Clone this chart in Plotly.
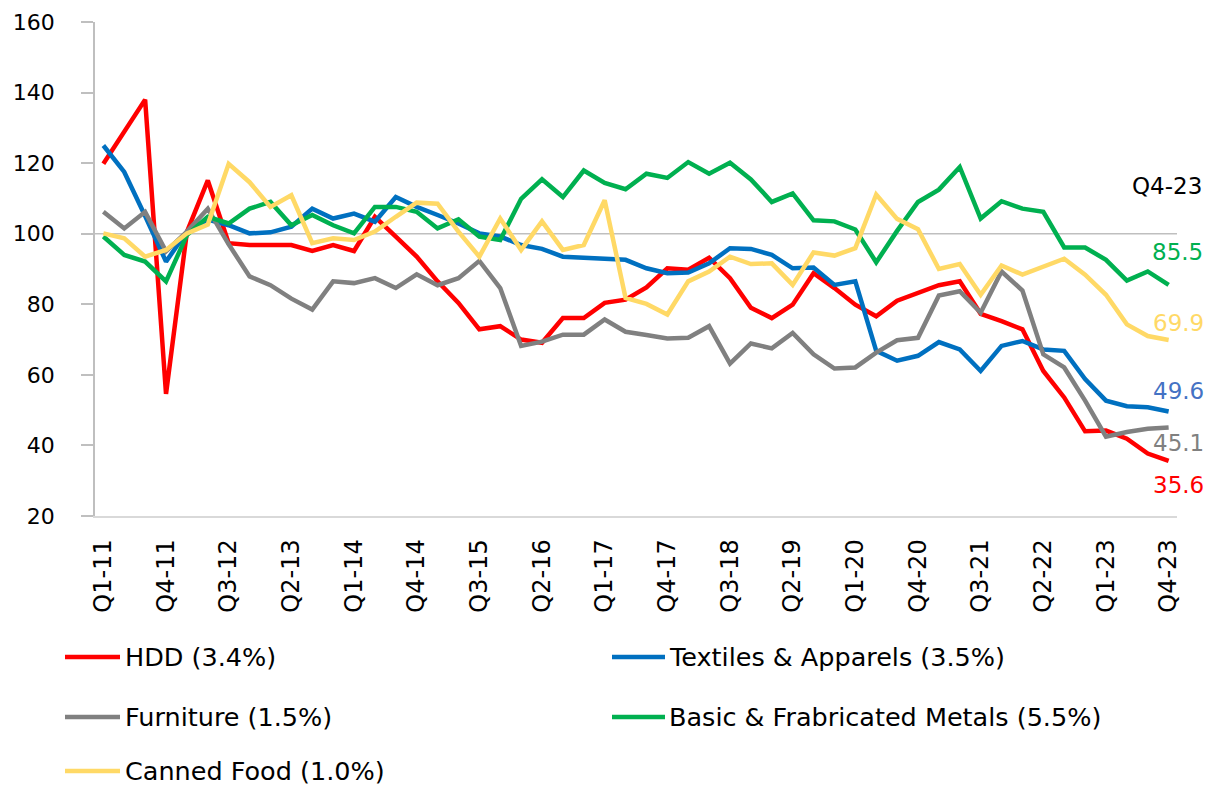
import plotly.graph_objects as go

# ---------------- data ----------------
quarters = [f"Q{q}-{y}" for y in range(11, 24) for q in range(1, 5)]

hdd = [119.8, 128.9, 138.0, 54.6, 100.5, 115.1, 97.3, 96.8, 96.7, 96.8, 95.1, 96.8, 95.1,
       104.8, 99.2, 93.5, 86.5, 80.4, 72.9, 73.8, 70.0, 69.1, 76.1, 76.1, 80.4,
       81.3, 84.8, 90.2, 89.8, 93.2, 87.4, 79.0, 76.1, 79.9, 88.8, 84.6, 79.9, 76.6,
       81.0, 83.2, 85.4, 86.5, 77.3, 75.2, 72.9, 61.1, 53.6, 44.0, 44.2, 41.9, 37.7, 35.6]
textiles = [125.0, 117.5, 105.0, 92.1, 100.6, 104.0, 102.4, 100.1, 100.4, 102.0, 107.1, 104.3, 105.7,
            103.4, 110.4, 107.6, 105.3, 102.9, 100.1, 99.2, 96.8, 95.7, 93.5, 93.2, 92.6,
            92.6, 90.2, 88.8, 89.0, 91.6, 95.9, 95.7, 94.0, 90.2, 90.4, 85.5, 86.5, 66.8,
            64.0, 65.4, 69.3, 67.2, 61.1, 68.2, 69.6, 67.2, 66.8, 58.8, 52.7, 51.1, 50.8, 49.6]
furniture = [106.2, 101.5, 106.2, 95.0, 100.6, 107.1, 97.0, 87.9, 85.4, 81.6, 78.5, 86.5, 86.0,
             87.4, 84.6, 88.5, 85.4, 87.4, 92.3, 84.6, 68.2, 69.4, 71.4, 71.4, 75.7,
             72.2, 71.3, 70.3, 70.5, 73.8, 63.2, 68.9, 67.5, 71.9, 65.8, 61.8, 62.1, 66.3,
             69.8, 70.5, 82.5, 83.7, 77.6, 89.3, 83.9, 65.8, 62.1, 52.7, 42.5, 43.8, 44.7, 45.1]
metals = [99.2, 94.0, 92.1, 86.5, 99.6, 104.8, 102.9, 107.1, 109.0, 102.4, 105.3, 102.4, 100.1,
          107.6, 107.6, 106.2, 101.5, 104.1, 99.2, 98.2, 109.9, 115.4, 110.4, 117.9, 114.4,
          112.6, 117.0, 115.8, 120.3, 117.0, 120.1, 115.4, 109.0, 111.4, 103.8, 103.5, 101.2, 91.9,
          100.8, 109.0, 112.5, 118.9, 104.3, 109.2, 107.1, 106.2, 96.1, 96.1, 92.6, 86.7, 89.3, 85.5]
canned = [100.1, 98.7, 93.5, 95.4, 100.1, 102.6, 119.8, 114.6, 107.6, 110.9, 97.3, 98.7, 98.2,
          100.6, 104.8, 108.8, 108.5, 100.6, 93.5, 104.3, 95.4, 103.5, 95.4, 96.8, 109.5,
          81.8, 80.1, 77.1, 86.5, 89.3, 93.5, 91.4, 91.6, 85.5, 94.7, 93.8, 95.9, 111.1,
          104.2, 101.3, 90.0, 91.4, 82.7, 91.0, 88.4, 90.7, 92.9, 88.4, 82.7, 74.3, 71.0, 69.9]

series_names = ["HDD (3.4%)", "Textiles & Apparels (3.5%)", "Furniture (1.5%)",
                "Basic & Frabricated Metals (5.5%)", "Canned Food (1.0%)"]
base_level = 100
tick_step = 3

# ---------------- styles ----------------
FONT = "DejaVu Sans"
OFF = 8                               # default body margin of the html page
W, H = 1214 - 2 * OFF, 795 - 2 * OFF  # keep the page free of scrollbars
SL, SR, ST, SB = 95, 1177, 22, 516    # wanted plot area on screen
L, T = SL - OFF, ST - OFF
R, B = W - (SR - OFF), H - (SB - OFF)
PW, PH = SR - SL, SB - ST

series = [
    (hdd, "#FF0000", "#FF0000", (10, -24)),
    (textiles, "#0070C0", "#4472C4", (10, 21)),
    (furniture, "#808080", "#808080", (10, -16)),
    (metals, "#00B050", "#00B050", (9, 33)),
    (canned, "#FFD966", "#FFD966", (10, 17)),
]

def px_x(p):
    return (p - SL) / PW

def px_y(p):
    return (SB - p) / PH

fig = go.Figure()
for (vals, col, lcol, _), name in zip(series, series_names):
    fig.add_trace(go.Scatter(x=quarters, y=vals, mode="lines", name=name,
                             line=dict(color=col, width=4.5), showlegend=False))

# reference line at 100
fig.add_shape(type="line", xref="paper", yref="y", x0=0, x1=1, y0=base_level, y1=base_level,
              line=dict(color="#BFBFBF", width=1.5), layer="below")

# end labels
for (vals, col, lcol, (dx, dy)) in series:
    fig.add_annotation(x=quarters[-1], y=vals[-1], text=f"{vals[-1]:.1f}", showarrow=False,
                       xshift=dx, yshift=dy, xanchor="center", yanchor="middle",
                       font=dict(family=FONT, size=23, color=lcol))
fig.add_annotation(xref="paper", yref="paper", x=px_x(1130), y=px_y(186), text=quarters[-1],
                   showarrow=False, xanchor="left", yanchor="middle",
                   font=dict(family=FONT, size=23, color="black"))

# manual legend (2 columns)
leg_pos = [(65, 120, 123, 657), (612, 665, 667, 657), (65, 120, 123, 717),
           (612, 665, 667, 717), (65, 120, 123, 771)]
for (vals, col, lcol, _), name, (lx0, lx1, tx, ly) in zip(series, series_names, leg_pos):
    fig.add_shape(type="line", xref="paper", yref="paper", x0=px_x(lx0), x1=px_x(lx1),
                  y0=px_y(ly), y1=px_y(ly), line=dict(color=col, width=4.5))
    fig.add_annotation(xref="paper", yref="paper", x=px_x(tx), y=px_y(ly), text=name,
                       showarrow=False, xanchor="left", yanchor="middle",
                       font=dict(family=FONT, size=25.5, color="black"))

fig.update_layout(
    width=W, height=H,
    margin=dict(l=L, r=R, t=T, b=B, autoexpand=False),
    paper_bgcolor="white", plot_bgcolor="white",
    showlegend=False,
    font=dict(family=FONT, color="black"),
)
fig.update_xaxes(
    type="category", range=[-0.4, len(quarters) - 0.6],
    tickvals=quarters[::tick_step], ticktext=quarters[::tick_step],
    tickangle=-90, tickfont=dict(family=FONT, size=24, color="black"),
    showline=True, linecolor="#D9D9D9", linewidth=1.5, showgrid=False,
    ticks="", ticklabelstandoff=12, zeroline=False, automargin=False,
    ticklabeloverflow="allow",
)
fig.update_yaxes(
    range=[20, 160], dtick=20, tick0=20,
    tickfont=dict(family=FONT, size=22, color="black"),
    showline=True, linecolor="#BFBFBF", linewidth=1.5, showgrid=False,
    ticks="outside", ticklen=12, tickcolor="#BFBFBF", tickwidth=1.5,
    ticklabelstandoff=22, zeroline=False, automargin=False,
    ticklabeloverflow="allow",
)

fig.write_html("out.html")
